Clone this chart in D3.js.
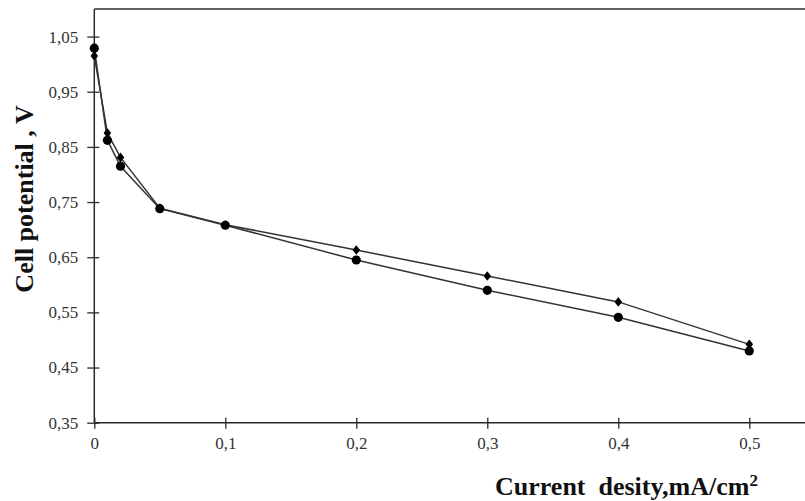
<!DOCTYPE html>
<html>
<head>
<meta charset="utf-8">
<script src="https://cdn.jsdelivr.net/npm/d3@7"></script>
<style>
  html, body { margin: 0; padding: 0; background: #fff; }
  svg { display: block; }
</style>
</head>
<body>
<svg id="chart" width="805" height="501"></svg>
<script>
const currentDensity = [0, 0.01, 0.02, 0.05, 0.1, 0.2, 0.3, 0.4, 0.5];
const seriesDiamond = [1.015, 0.875, 0.831, 0.739, 0.709, 0.663, 0.616, 0.569, 0.492];
const seriesCircle  = [1.029, 0.862, 0.815, 0.738, 0.708, 0.645, 0.590, 0.541, 0.480];
const xTicks = [0, 0.1, 0.2, 0.3, 0.4, 0.5];
const yTicks = [0.35, 0.45, 0.55, 0.65, 0.75, 0.85, 0.95, 1.05];
const xTitle = "Current  desity,mA/cm";
const yTitle = "Cell potential , V";

const svg = d3.select("#chart");
const mLeft = 94.3, mTop = 9, mBottom = 422.7;
const x = d3.scaleLinear().domain([0, 0.55]).range([mLeft, mLeft + 1310 * 0.55]);
const y = d3.scaleLinear().domain([0.35, 1.1]).range([mBottom, mTop]);
const fmt = v => (v === 0 ? "0" : d3.format(".2~f")(v)).replace(".", ",");
const ink = "#2a2a2a";

// frame top line
svg.append("line").attr("x1", mLeft).attr("x2", 810).attr("y1", mTop).attr("y2", mTop)
  .attr("stroke", ink).attr("stroke-width", 1.5);

// x axis
const xAxis = svg.append("g").attr("transform", `translate(0,${mBottom})`)
  .call(d3.axisBottom(x).tickValues(xTicks).tickFormat(fmt).tickSize(0).tickPadding(14));
xAxis.select(".domain").attr("d", `M${mLeft},0H810`).attr("stroke", ink).attr("stroke-width", 1.5);
xAxis.selectAll(".tick").append("line").attr("y1", -5).attr("y2", 6).attr("stroke", ink).attr("stroke-width", 1.3);
xAxis.selectAll("text").attr("font-family", "Liberation Serif, serif").attr("font-size", 17).attr("fill", "#333");

// y axis
const yAxis = svg.append("g").attr("transform", `translate(${mLeft},0)`)
  .call(d3.axisLeft(y).tickValues(yTicks).tickFormat(fmt).tickSize(0).tickPadding(16));
yAxis.select(".domain").attr("d", `M0,${mTop}V${mBottom}`).attr("stroke", ink).attr("stroke-width", 1.5);
yAxis.selectAll(".tick").append("line").attr("x1", -7).attr("x2", 5).attr("stroke", ink).attr("stroke-width", 1.3);
yAxis.selectAll("text").attr("font-family", "Liberation Serif, serif").attr("font-size", 17).attr("fill", "#333");

// lines
const line = d3.line().x((d, i) => x(currentDensity[i])).y(d => y(d));
[seriesDiamond, seriesCircle].forEach(s => {
  svg.append("path").datum(s).attr("d", line).attr("fill", "none")
    .attr("stroke", "#333").attr("stroke-width", 1.5);
});

// markers
svg.append("g").selectAll("path").data(seriesDiamond).join("path")
  .attr("transform", (d, i) => `translate(${x(currentDensity[i])},${y(d)})`)
  .attr("d", "M0,-4.8L3.8,0L0,4.8L-3.8,0Z").attr("fill", "#000");
svg.append("g").selectAll("circle").data(seriesCircle).join("circle")
  .attr("cx", (d, i) => x(currentDensity[i])).attr("cy", d => y(d)).attr("r", 4.6).attr("fill", "#000");

// titles
const xt = svg.append("text").attr("x", 495).attr("y", 495)
  .attr("font-family", "Liberation Serif, serif").attr("font-weight", "bold").attr("font-size", 26)
  .attr("fill", "#111").style("white-space", "pre");
xt.append("tspan").text(xTitle);
xt.append("tspan").attr("dy", -9).attr("font-size", 17).text("2");

svg.append("text").attr("transform", "translate(33,199) rotate(-90)")
  .attr("text-anchor", "middle")
  .attr("font-family", "Liberation Serif, serif").attr("font-weight", "bold").attr("font-size", 26)
  .attr("fill", "#111").text(yTitle);
</script>
</body>
</html>
